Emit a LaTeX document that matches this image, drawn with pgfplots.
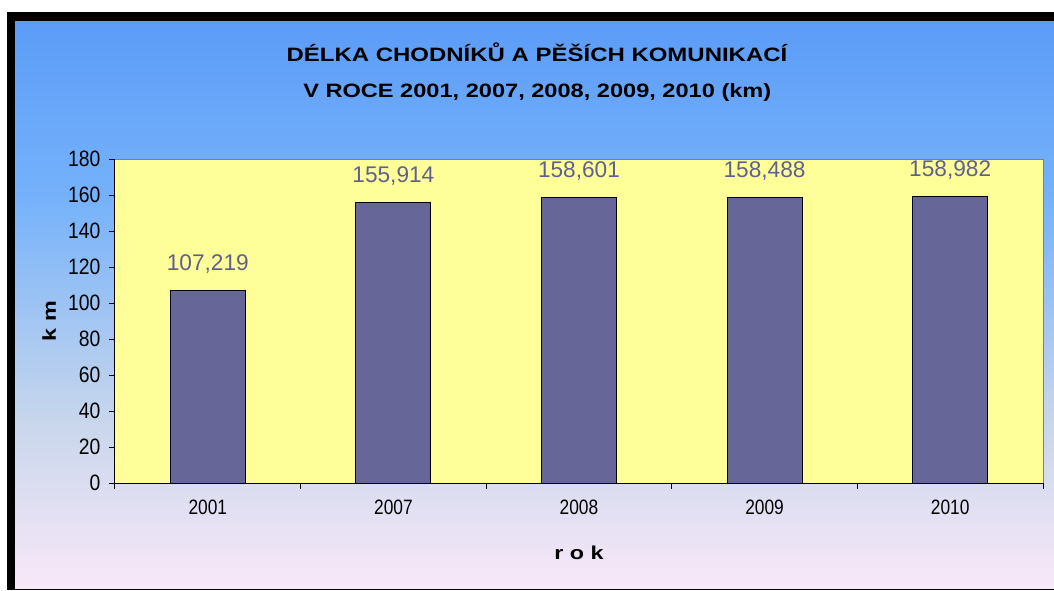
\documentclass[border=0pt]{standalone}
\usepackage{pgfplots}
\pgfplotsset{compat=1.18}
\usepackage{graphicx}
\usepackage{fontspec}
\setmainfont{Liberation Sans}
\definecolor{bgA}{RGB}{92,156,248}
\definecolor{bgB}{RGB}{118,178,250}
\definecolor{bgC}{RGB}{200,214,236}
\definecolor{bgD}{RGB}{248,232,248}
\definecolor{barc}{RGB}{102,102,153}
\definecolor{labc}{RGB}{96,96,143}
\definecolor{plotbg}{RGB}{255,255,153}
\begin{document}
\begin{tikzpicture}
\useasboundingbox (0,0) rectangle (790.5pt,442.5pt);
\fill[white] (0,0) rectangle (790.5pt,442.5pt);
\fill[black] (5.25pt,0) rectangle (790.5pt,433.5pt);
\shade[top color=bgA,bottom color=bgB] (11.25pt,292.4pt) rectangle (790.5pt,426pt);
\shade[top color=bgB,bottom color=bgC] (11.25pt,127.4pt) rectangle (790.5pt,292.5pt);
\shade[top color=bgC,bottom color=bgD] (11.25pt,1.5pt) rectangle (790.5pt,127.5pt);
\node[font=\fontsize{14.5pt}{16pt}\selectfont\bfseries] at (402.75pt,403.5pt) {\scalebox{1.24}[1]{DÉLKA CHODNÍKŮ A PĚŠÍCH KOMUNIKACÍ}};
\node[font=\fontsize{14.5pt}{16pt}\selectfont\bfseries] at (403pt,373pt) {\scalebox{1.22}[1]{V ROCE 2001, 2007, 2008, 2009, 2010 (km)}};
\begin{axis}[
  at={(86.25pt,80.25pt)}, anchor=south west,
  scale only axis, width=696pt, height=243pt,
  xmin=0.5, xmax=5.5, ymin=0, ymax=180,
  ytick={0,20,...,180},
  yticklabel={\scalebox{1}[1.15]{\pgfmathprintnumber{\tick}}},
  xtick={1,2,3,4,5},
  xticklabels={\scalebox{1}[1.2]{2001},\scalebox{1}[1.2]{2007},\scalebox{1}[1.2]{2008},\scalebox{1}[1.2]{2009},\scalebox{1}[1.2]{2010}},
  minor xtick={0.5,1.5,2.5,3.5,4.5,5.5},
  major x tick style={draw=none},
  tick align=outside,
  major tick length=4.5pt, minor tick length=4.5pt,
  tick style={black, line width=0.75pt},
  axis x line*=bottom, axis y line*=left,
  axis line style={black, line width=0.75pt, -},
  axis background/.style={fill=plotbg, draw=gray, line width=0.75pt},
  /pgf/number format/assume math mode=true,
  yticklabel style={font=\fontsize{14.5pt}{16pt}\selectfont, xshift=-3pt},
  xticklabel style={font=\fontsize{13pt}{15pt}\selectfont, yshift=-5pt},
  xlabel={\scalebox{1.25}[1]{\textbf{r o k}}},
  ylabel={\scalebox{1.25}[1]{\textbf{k m}}},
  xlabel style={font=\fontsize{14pt}{16pt}\selectfont, at={(axis description cs:0.5,0)}, anchor=center, yshift=-52pt},
  ylabel style={font=\fontsize{14pt}{16pt}\selectfont, at={(axis description cs:0,0.5)}, anchor=center, yshift=49.5pt},
  ybar, bar width=56.25pt,
  nodes near coords={\pgfmathprintnumber[fixed,fixed zerofill,precision=3,use comma,assume math mode=true]{\pgfplotspointmeta}},
  nodes near coords style={font=\fontsize{17pt}{19pt}\selectfont, color=labc, anchor=base, yshift=15pt},
]
\addplot[fill=barc, draw=black, line width=0.75pt] coordinates {(1,107.219) (2,155.914) (3,158.601) (4,158.488) (5,158.982)};
\end{axis}
\end{tikzpicture}
\end{document}
